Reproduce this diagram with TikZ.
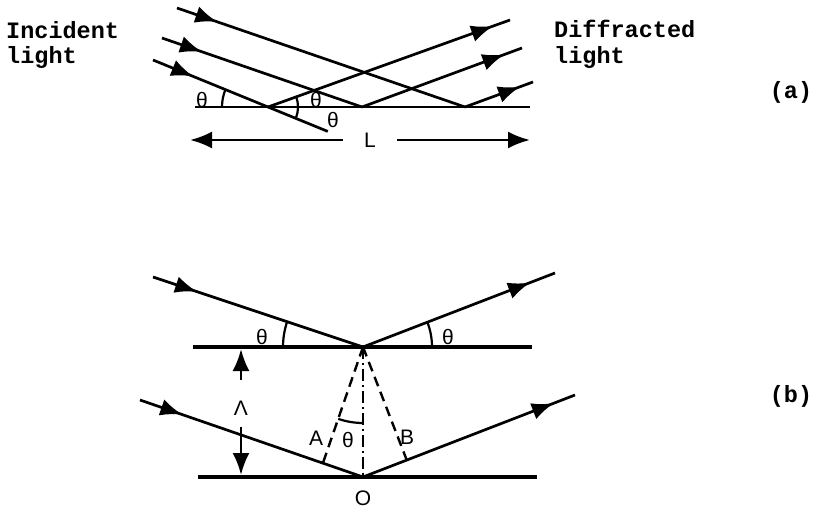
\documentclass[tikz,border=0pt]{standalone}
\usepackage{fontspec}
\setmainfont{Liberation Sans}
\newfontfamily\twfont{Liberation Mono}
\usetikzlibrary{arrows.meta,decorations.markings,calc}
\begin{document}
\begin{tikzpicture}[x=1pt,y=1pt,
  ray/.style={line width=2.7pt},
  surf/.style={line width=2.8pt},
  surfb/.style={line width=3.6pt},
  anglearc/.style={line width=2.2pt},
  wave/.style={line width=2.4pt,dash pattern=on 10pt off 6pt},
  axisline/.style={line width=2.4pt,dash pattern=on 12pt off 4pt on 2pt off 4pt},
  tip/.style={-{Latex[length=22pt,width=17pt]}},
  arrowat/.style={postaction={decorate,decoration={markings,
     mark=at position #1 with {\arrow{Latex[length=22pt,width=17pt]}}}}},
  lbl/.style={inner sep=0pt,font=\fontsize{21}{21}\selectfont},
  tw/.style={inner sep=0pt,anchor=base west,font=\twfont\bfseries\fontsize{23.5}{23.5}\selectfont}]
\useasboundingbox (0,0) rectangle (813,509);
% ---------------- (a) ----------------
\coordinate (S1) at (195,402);
\coordinate (S2) at (530,402);
\coordinate (P1) at (268,402);
\coordinate (P2) at (362,402);
\coordinate (P3) at (465,402);
\coordinate (I1) at (177,501);
\coordinate (I2) at (162,471);
\coordinate (I3) at (153,449);
\coordinate (E) at ($(I3)!1.52!(P1)$);
\coordinate (D1) at (510,489);
\coordinate (D2) at (522,461);
\coordinate (D3) at (533,427);
\draw[surf] (S1) -- (S2);
\draw[ray,arrowat=0.14] (I1) -- (P3);
\draw[ray,arrowat=0.20] (I2) -- (P2);
\draw[ray,arrowat=0.35] (I3) -- (P1);
\draw[ray] (P1) -- (E);
\draw[ray,arrowat=0.93] (P1) -- (D1);
\draw[ray,arrowat=0.89] (P2) -- (D2);
\draw[ray,arrowat=0.81] (P3) -- (D3);
\draw[anglearc] ($(P1)+(180:46)$) arc[start angle=180,end angle=158,radius=46];
\draw[anglearc] ($(P1)+(-21:30)$) arc[start angle=-21,end angle=20,radius=30];
\node[lbl] (ta1) at (202,409) {θ};
\node[lbl] (ta2) at (316,409) {θ};
\node[lbl] (ta3) at (333,389) {θ};
\coordinate (La) at (190,369);
\coordinate (Lb) at (530,369);
\node[lbl,minimum width=54pt] (L) at (370,369) {L};
\draw[ray,tip] (L.west) -- (La);
\draw[ray,tip] (L.east) -- (Lb);
\node[tw] (inc1) at (6,470) {Incident};
\node[tw] (inc2) at (6,445) {light};
\node[tw] (dif1) at (554,471) {Diffracted};
\node[tw] (dif2) at (554,445) {light};
\node[tw,anchor=center] (la) at (791,417) {(a)};
% ---------------- (b) ----------------
\coordinate (U1) at (193,162);
\coordinate (U2) at (532,162);
\coordinate (T) at (363,162);
\coordinate (B1) at (198,32);
\coordinate (B2) at (537,32);
\coordinate (O) at (363,32);
\coordinate (UI) at (153,232);
\coordinate (UD) at (555,236);
\coordinate (LI) at (140,109);
\coordinate (LD) at (575,114);
\coordinate (A) at ($(LI)!(T)!(O)$);
\coordinate (B) at ($(O)!(T)!(LD)$);
\draw[surfb] (U1) -- (U2);
\draw[surfb] (B1) -- (B2);
\draw[ray,arrowat=0.21] (UI) -- (T);
\draw[ray,arrowat=0.87] (T) -- (UD);
\draw[ray,arrowat=0.19] (LI) -- (O);
\draw[ray,arrowat=0.90] (O) -- (LD);
\draw[wave] (T) -- (A);
\draw[wave] (T) -- (B);
\draw[axisline] (T) -- (O);
\draw[anglearc] ($(T)+(180:80)$) arc[start angle=180,end angle=161.6,radius=80];
\draw[anglearc] ($(T)+(0:69)$) arc[start angle=0,end angle=21,radius=69];
\draw[anglearc] ($(T)+(-109:76)$) arc[start angle=-109,end angle=-90,radius=76];
\node[lbl] (tb1) at (262,172) {θ};
\node[lbl] (tb2) at (448,172) {θ};
\node[lbl] (tb3) at (348,69) {θ};
\node[lbl] (Alab) at (316,71) {A};
\node[lbl] (Blab) at (407,72) {B};
\node[lbl] (Olab) at (363,11) {O};
\node[lbl] (Lam) at (241,101) {Λ};
\coordinate (LamT) at (241,160);
\coordinate (LamB) at (241,34);
\draw[ray,tip] (241,129) -- (LamT);
\draw[ray,tip] (241,82) -- (LamB);
\node[tw,anchor=center] (lb) at (791,113) {(b)};
\end{tikzpicture}
\end{document}
